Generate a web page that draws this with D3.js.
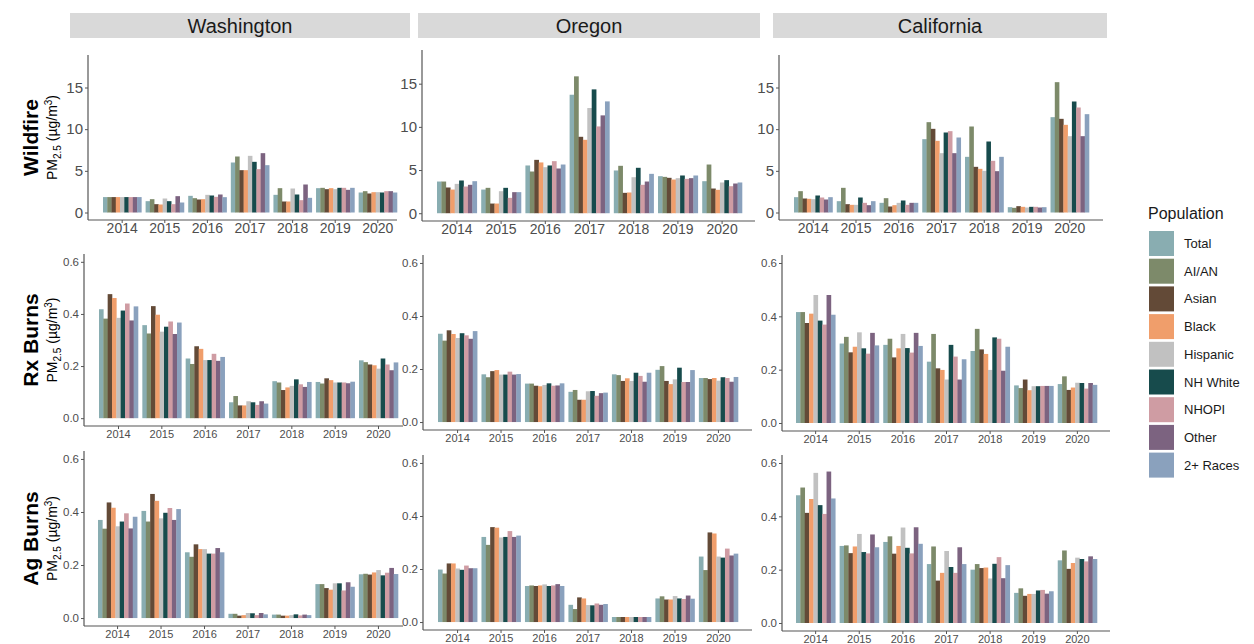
<!DOCTYPE html>
<html>
<head>
<meta charset="utf-8">
<script src="https://cdn.jsdelivr.net/npm/d3@7"></script>
<style>
  body { margin: 0; background: #fff; }
  svg { font-family: "Liberation Sans", Arial, sans-serif; }
</style>
</head>
<body>
<svg id="chart"></svg>
<script>
// categories
const years = ["2014", "2015", "2016", "2017", "2018", "2019", "2020"];
const populations = ["Total", "AI/AN", "Asian", "Black", "Hispanic", "NH White", "NHOPI", "Other", "2+ Races"];
const states = ["Washington", "Oregon", "California"];
const sources = ["Wildfire", "Rx Burns", "Ag Burns"];
const wildfireTicks = [0, 5, 10, 15];
const burnTicks = [0, 0.2, 0.4, 0.6];

// values: one row per year, one column per population (same order as populations)
const wildfireWA = [
  [1.85, 1.85, 1.85, 1.85, 1.85, 1.85, 1.85, 1.85, 1.85],
  [1.36, 1.6, 1.0, 0.96, 1.68, 1.36, 1.0, 1.96, 1.2],
  [2.0, 1.72, 1.56, 1.6, 2.12, 2.04, 1.88, 2.16, 1.84],
  [6.0, 6.72, 5.08, 5.08, 6.8, 6.08, 5.2, 7.12, 5.68],
  [2.12, 2.92, 1.32, 1.32, 2.88, 2.16, 1.48, 3.36, 1.76],
  [2.92, 2.96, 2.8, 2.92, 2.8, 2.96, 2.96, 2.72, 2.96],
  [2.4, 2.56, 2.28, 2.44, 2.44, 2.4, 2.56, 2.56, 2.4]
];
const wildfireOR = [
  [3.67, 3.67, 2.98, 2.74, 3.4, 3.79, 3.09, 3.29, 3.71],
  [2.74, 2.94, 1.12, 1.12, 2.55, 2.94, 1.78, 2.44, 2.44],
  [5.53, 4.83, 6.18, 5.88, 5.33, 5.53, 6.03, 5.18, 5.64],
  [13.72, 15.85, 8.85, 8.5, 12.18, 14.34, 10.05, 11.33, 12.95],
  [4.95, 5.49, 2.36, 2.4, 4.17, 5.26, 3.29, 3.67, 4.56],
  [4.29, 4.21, 4.1, 3.9, 4.06, 4.37, 3.98, 4.06, 4.37],
  [3.71, 5.64, 2.86, 2.71, 3.56, 3.83, 3.13, 3.44, 3.56]
];
const wildfireCA = [
  [1.84, 2.56, 1.68, 1.64, 1.6, 2.04, 1.8, 1.56, 1.84],
  [1.36, 2.96, 1.0, 0.92, 0.92, 1.8, 1.16, 0.88, 1.36],
  [1.16, 1.72, 0.72, 0.88, 1.16, 1.44, 0.92, 1.16, 1.16],
  [8.8, 10.84, 10.04, 8.6, 7.12, 9.6, 9.76, 7.12, 9.0],
  [6.68, 10.32, 5.48, 5.24, 5.0, 8.52, 6.2, 4.96, 6.68],
  [0.64, 0.56, 0.76, 0.68, 0.6, 0.68, 0.68, 0.6, 0.64],
  [11.44, 15.64, 11.24, 10.52, 9.16, 13.32, 12.6, 9.16, 11.8]
];
const rxWA = [
  [0.418, 0.382, 0.476, 0.461, 0.385, 0.413, 0.44, 0.375, 0.429],
  [0.357, 0.325, 0.43, 0.397, 0.332, 0.351, 0.371, 0.323, 0.367],
  [0.229, 0.208, 0.276, 0.266, 0.223, 0.223, 0.247, 0.22, 0.235],
  [0.061, 0.085, 0.049, 0.049, 0.065, 0.061, 0.051, 0.065, 0.056],
  [0.142, 0.137, 0.108, 0.118, 0.124, 0.149, 0.13, 0.12, 0.139],
  [0.139, 0.133, 0.153, 0.146, 0.137, 0.137, 0.137, 0.134, 0.14],
  [0.222, 0.215, 0.206, 0.203, 0.19, 0.229, 0.206, 0.184, 0.214]
];
const rxOR = [
  [0.333, 0.307, 0.346, 0.332, 0.317, 0.335, 0.327, 0.314, 0.343],
  [0.18, 0.169, 0.192, 0.196, 0.179, 0.179, 0.19, 0.179, 0.181],
  [0.145, 0.145, 0.137, 0.135, 0.14, 0.146, 0.137, 0.138, 0.146],
  [0.114, 0.121, 0.084, 0.084, 0.116, 0.117, 0.099, 0.109, 0.111],
  [0.18, 0.177, 0.155, 0.165, 0.155, 0.186, 0.174, 0.152, 0.186],
  [0.197, 0.211, 0.155, 0.143, 0.161, 0.205, 0.151, 0.151, 0.196],
  [0.166, 0.166, 0.162, 0.166, 0.156, 0.169, 0.166, 0.152, 0.17]
];
const rxCA = [
  [0.416, 0.416, 0.375, 0.41, 0.48, 0.384, 0.369, 0.48, 0.406],
  [0.298, 0.323, 0.265, 0.286, 0.34, 0.28, 0.26, 0.338, 0.291],
  [0.293, 0.316, 0.246, 0.28, 0.334, 0.281, 0.264, 0.338, 0.289],
  [0.23, 0.334, 0.205, 0.199, 0.163, 0.293, 0.249, 0.163, 0.239],
  [0.27, 0.353, 0.276, 0.259, 0.199, 0.321, 0.316, 0.196, 0.286],
  [0.141, 0.131, 0.163, 0.123, 0.138, 0.138, 0.139, 0.139, 0.139],
  [0.146, 0.175, 0.124, 0.133, 0.151, 0.15, 0.129, 0.15, 0.143]
];
const agWA = [
  [0.37, 0.337, 0.436, 0.416, 0.346, 0.364, 0.395, 0.338, 0.382],
  [0.404, 0.364, 0.468, 0.442, 0.376, 0.397, 0.415, 0.37, 0.411],
  [0.248, 0.231, 0.278, 0.26, 0.26, 0.243, 0.243, 0.264, 0.248],
  [0.016, 0.016, 0.009, 0.011, 0.019, 0.018, 0.011, 0.019, 0.014],
  [0.013, 0.013, 0.009, 0.009, 0.011, 0.014, 0.01, 0.013, 0.011],
  [0.128, 0.128, 0.113, 0.107, 0.131, 0.131, 0.104, 0.135, 0.118],
  [0.165, 0.167, 0.164, 0.172, 0.181, 0.161, 0.171, 0.189, 0.166]
];
const agOR = [
  [0.198, 0.183, 0.221, 0.221, 0.202, 0.197, 0.213, 0.203, 0.203],
  [0.321, 0.291, 0.358, 0.356, 0.319, 0.321, 0.343, 0.321, 0.326],
  [0.136, 0.138, 0.136, 0.138, 0.142, 0.136, 0.138, 0.143, 0.136],
  [0.065, 0.049, 0.093, 0.089, 0.064, 0.063, 0.07, 0.065, 0.068],
  [0.019, 0.019, 0.019, 0.019, 0.019, 0.019, 0.019, 0.019, 0.019],
  [0.089, 0.097, 0.085, 0.085, 0.098, 0.089, 0.087, 0.1, 0.088],
  [0.247, 0.196, 0.338, 0.334, 0.247, 0.243, 0.277, 0.251, 0.258]
];
const agCA = [
  [0.479, 0.508, 0.413, 0.465, 0.563, 0.442, 0.409, 0.568, 0.467],
  [0.289, 0.291, 0.262, 0.287, 0.334, 0.266, 0.261, 0.332, 0.284],
  [0.304, 0.325, 0.26, 0.289, 0.358, 0.282, 0.261, 0.359, 0.297],
  [0.221, 0.287, 0.159, 0.188, 0.27, 0.21, 0.188, 0.284, 0.221],
  [0.2, 0.221, 0.206, 0.208, 0.167, 0.222, 0.247, 0.168, 0.217],
  [0.113, 0.13, 0.102, 0.109, 0.109, 0.122, 0.124, 0.11, 0.119],
  [0.235, 0.272, 0.203, 0.225, 0.245, 0.24, 0.231, 0.25, 0.24]
];

const grid = [
  [wildfireWA, wildfireOR, wildfireCA],
  [rxWA, rxOR, rxCA],
  [agWA, agOR, agCA]
];

const colors = ["#89adb1", "#7d8a6a", "#634a37", "#f09e6b", "#c1c1c1", "#174b4c", "#cf9ca3", "#7c6380", "#8aa1bd"];
const color = d3.scaleOrdinal().domain(populations).range(colors);

// panel boxes (the reference is a collage, so each panel sits a little differently)
// l/r: x-axis line, t/b: y-axis line, g0/g1: outer edges of the first and last year group
const layout = [
  [
    { l: 88, r: 397, t: 55, b: 220, g0: 103, g1: 397 },
    { l: 422, r: 755, t: 50, b: 221, g0: 437, g1: 742 },
    { l: 779, r: 1103, t: 55, b: 220, g0: 794, g1: 1089 }
  ],
  [
    { l: 84, r: 403, t: 254, b: 426, g0: 99, g1: 398 },
    { l: 423, r: 752, t: 255, b: 430, g0: 438, g1: 738 },
    { l: 782, r: 1110, t: 255, b: 431, g0: 796, g1: 1097 }
  ],
  [
    { l: 84, r: 403, t: 451, b: 626, g0: 98, g1: 398 },
    { l: 423, r: 752, t: 455, b: 630, g0: 438, g1: 738 },
    { l: 782, r: 1110, t: 455, b: 631, g0: 796, g1: 1097 }
  ]
];
const strips = [
  { x0: 70, x1: 410 },
  { x0: 418, x1: 760 },
  { x0: 773, x1: 1107 }
];

const svg = d3.select("#chart")
  .attr("width", 1254)
  .attr("height", 644);

const axisColor = "#555";
const tickText = "#4d4d4d";

// state strips
strips.forEach((s, i) => {
  svg.append("rect")
    .attr("x", s.x0)
    .attr("y", 13)
    .attr("width", s.x1 - s.x0)
    .attr("height", 25)
    .attr("fill", "#d9d9d9");
  svg.append("text")
    .attr("x", (s.x0 + s.x1) / 2)
    .attr("y", 33)
    .attr("text-anchor", "middle")
    .attr("font-size", "20px")
    .attr("fill", "#1a1a1a")
    .text(states[i]);
});

grid.forEach((row, ri) => {
  const isFire = ri === 0;
  const yMax = isFire ? 18 : 0.6;
  const ticks = isFire ? wildfireTicks : burnTicks;

  row.forEach((vals, ci) => {
    const p = layout[ri][ci];
    const g = svg.append("g");

    const y = d3.scaleLinear()
      .domain([-0.05 * yMax, 1.05 * yMax])
      .range([p.b, p.t]);

    const x = d3.scaleBand()
      .domain(years)
      .range([p.g0, p.g1])
      .paddingInner(0.1)
      .paddingOuter(0);

    const xInner = d3.scaleBand()
      .domain(populations)
      .range([0, x.bandwidth()]);

    // bars
    const groups = g.selectAll(".year")
      .data(years)
      .join("g")
      .attr("class", "year")
      .attr("transform", d => `translate(${x(d)},0)`);

    groups.selectAll("rect")
      .data((d, i) => vals[i].map((v, j) => ({ pop: populations[j], v })))
      .join("rect")
      .attr("x", d => xInner(d.pop))
      .attr("y", d => y(d.v))
      .attr("width", xInner.bandwidth() + 0.3)
      .attr("height", d => y(0) - y(d.v))
      .attr("fill", d => color(d.pop));

    // y axis
    const yAxis = d3.axisLeft(y)
      .tickValues(ticks)
      .tickSize(3)
      .tickPadding(2)
      .tickFormat(isFire ? d3.format("d") : d3.format(".1f"));
    const ya = g.append("g")
      .attr("transform", `translate(${p.l},0)`)
      .call(yAxis);
    ya.select(".domain").remove();
    ya.selectAll(".tick line").attr("stroke", axisColor);
    ya.selectAll(".tick text")
      .attr("fill", tickText)
      .attr("font-size", isFire ? "15px" : "11.5px")
      .attr("font-family", "Liberation Sans, Arial, sans-serif");

    // x axis
    const xAxis = d3.axisBottom(x)
      .tickSize(3)
      .tickPadding(isFire ? 0 : 1);
    const xa = g.append("g")
      .attr("transform", `translate(0,${p.b})`)
      .call(xAxis);
    xa.select(".domain").remove();
    xa.selectAll(".tick line").attr("stroke", axisColor);
    xa.selectAll(".tick text")
      .attr("fill", tickText)
      .attr("font-size", isFire ? "14px" : "11px")
      .attr("font-family", "Liberation Sans, Arial, sans-serif");

    // axis lines
    g.append("line")
      .attr("x1", p.l).attr("x2", p.l)
      .attr("y1", p.t).attr("y2", p.b)
      .attr("stroke", axisColor)
      .attr("stroke-width", 1.2);
    g.append("line")
      .attr("x1", p.l).attr("x2", p.r)
      .attr("y1", p.b).attr("y2", p.b)
      .attr("stroke", axisColor)
      .attr("stroke-width", 1.2);
  });

  // row labels
  const p0 = layout[ri][0];
  const cy = (p0.t + p0.b) / 2;
  svg.append("text")
    .attr("transform", `translate(38,${cy}) rotate(-90)`)
    .attr("text-anchor", "middle")
    .attr("font-size", "21px")
    .attr("font-weight", "bold")
    .attr("fill", "#000")
    .text(sources[ri]);

  const unit = svg.append("text")
    .attr("transform", `translate(57,${cy}) rotate(-90)`)
    .attr("text-anchor", "middle")
    .attr("font-size", "14px")
    .attr("fill", "#000");
  unit.append("tspan").text("PM");
  unit.append("tspan").attr("dy", 4).attr("font-size", "10px").text("2.5");
  unit.append("tspan").attr("dy", -4).text(" (µg/m");
  unit.append("tspan").attr("dy", -5).attr("font-size", "10px").text("3");
  unit.append("tspan").attr("dy", 5).text(")");
});

// legend
const legend = svg.append("g");
legend.append("text")
  .attr("x", 1148)
  .attr("y", 219)
  .attr("font-size", "16px")
  .attr("fill", "#1a1a1a")
  .text("Population");

const items = legend.selectAll(".item")
  .data(populations)
  .join("g")
  .attr("class", "item")
  .attr("transform", (d, i) => `translate(1149,${231 + i * 27.7})`);
items.append("rect")
  .attr("width", 25)
  .attr("height", 25)
  .attr("fill", d => color(d));
items.append("text")
  .attr("x", 35)
  .attr("y", 12.5)
  .attr("dy", "0.35em")
  .attr("font-size", "13px")
  .attr("fill", "#1a1a1a")
  .text(d => d);
</script>
</body>
</html>
